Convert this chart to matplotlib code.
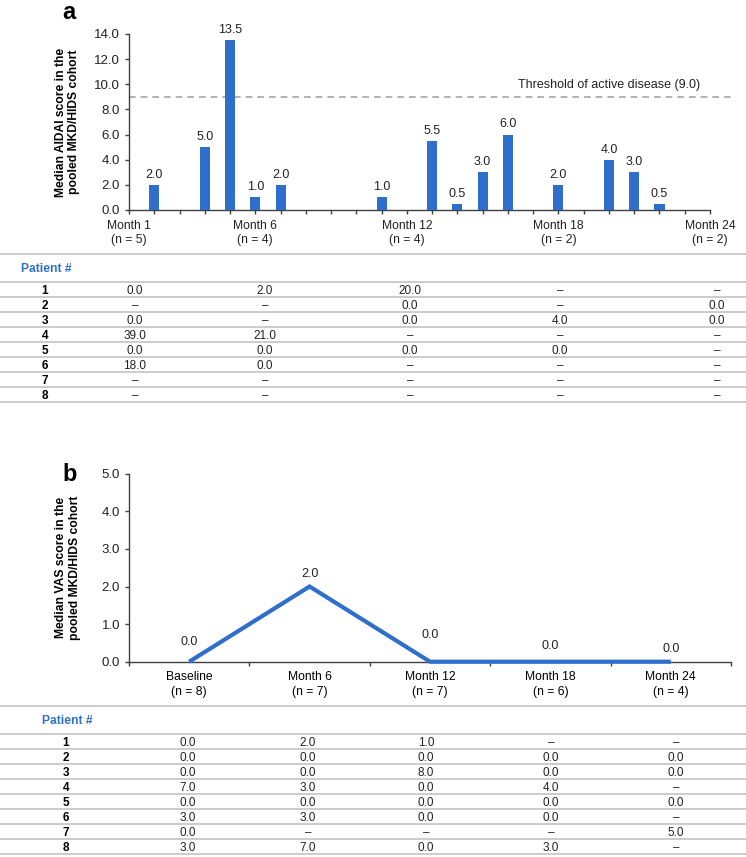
import matplotlib
matplotlib.use("Agg")
import matplotlib.pyplot as plt
from matplotlib.lines import Line2D

plt.rcParams['font.family'] = ['Liberation Sans', 'DejaVu Sans']

# ---------------- data ----------------
# Panel a: median AIDAI score by month
aidai_months = [2, 4, 5, 6, 7, 11, 13, 14, 15, 16, 18, 20, 21, 22]
aidai_values = [2.0, 5.0, 13.5, 1.0, 2.0, 1.0, 5.5, 0.5, 3.0, 6.0, 2.0, 4.0, 3.0, 0.5]
aidai_label_months = [1, 6, 12, 18, 24]
aidai_label_n = [5, 4, 4, 2, 2]
threshold = 9.0

# Panel a table (columns: Month 1, 6, 12, 18, 24), None = missing
patients = [1, 2, 3, 4, 5, 6, 7, 8]
aidai_table = [
    [0.0, 2.0, 20.0, None, None],
    [None, None, 0.0, None, 0.0],
    [0.0, None, 0.0, 4.0, 0.0],
    [39.0, 21.0, None, None, None],
    [0.0, 0.0, 0.0, 0.0, None],
    [18.0, 0.0, None, None, None],
    [None, None, None, None, None],
    [None, None, None, None, None],
]

# Panel b: median VAS score
vas_categories = ["Baseline", "Month 6", "Month 12", "Month 18", "Month 24"]
vas_n = [8, 7, 7, 6, 4]
vas_values = [0.0, 2.0, 0.0, 0.0, 0.0]

vas_table = [
    [0.0, 2.0, 1.0, None, None],
    [0.0, 0.0, 0.0, 0.0, 0.0],
    [0.0, 0.0, 8.0, 0.0, 0.0],
    [7.0, 3.0, 0.0, 4.0, None],
    [0.0, 0.0, 0.0, 0.0, 0.0],
    [3.0, 3.0, 0.0, 0.0, None],
    [0.0, None, None, None, 5.0],
    [3.0, 7.0, 0.0, 3.0, None],
]

# ---------------- layout ----------------
W, H = 746, 857
BLUE = "#2F6FCB"
AXC = "#404040"
GRID = "#c8c8c8"
FS = 8.7
TFS = 8.5

fig = plt.figure(figsize=(W / 100, H / 100), dpi=100)


def fy(py):
    return 1 - py / H


def fx(px):
    return px / W


def axes_px(l, r, t, b):
    return fig.add_axes([fx(l), fy(b), fx(r) - fx(l), fy(t) - fy(b)])


def style_axes(ax):
    for s in ("top", "right"):
        ax.spines[s].set_visible(False)
    for s in ("left", "bottom"):
        ax.spines[s].set_color(AXC)
        ax.spines[s].set_linewidth(1.0)
    ax.tick_params(direction="out", length=3, width=1.0, color=AXC,
                   labelsize=FS, labelcolor="#222222")
    ax.tick_params(axis="y", labelsize=9.5)


def hline(py, x0=0, x1=W, lw=1.3):
    fig.add_artist(Line2D([fx(x0), fx(x1)], [fy(py), fy(py)],
                          transform=fig.transFigure, color=GRID, lw=lw))


def fmt(v):
    return "\u2013" if v is None else f"{v:.1f}"


# baseline offset (px) so digits are vertically centred in a row
BASE_OFF = 0.716 * TFS * 100 / 72 / 2

# ---------------- panel a ----------------
axa = axes_px(129, 710, 34, 210)
style_axes(axa)
axa.bar(aidai_months, aidai_values, width=0.4, color=BLUE, zorder=3)
for m, v in zip(aidai_months, aidai_values):
    axa.annotate(f"{v:.1f}", (m, v), xytext=(0, 3), textcoords="offset points",
                 ha="center", va="bottom", fontsize=9, color="#222222")
axa.set_xlim(1, 24)
axa.set_ylim(0, 14)
axa.set_yticks([0, 2, 4, 6, 8, 10, 12, 14])
axa.set_yticklabels([f"{t:.1f}" for t in [0, 2, 4, 6, 8, 10, 12, 14]])
months_all = list(range(1, 25))
axa.set_xticks(months_all)
lab = {m: f"Month {m}\n(n = {n})" for m, n in zip(aidai_label_months, aidai_label_n)}
axa.set_xticklabels([lab.get(m, "") for m in months_all], linespacing=1.25)
axa.tick_params(axis="x", pad=4)
axa.plot([1, 24.87], [threshold, threshold], ls=(0, (4, 3)), color="#a6a6a6",
         lw=1.2, clip_on=False, zorder=2)
axa.annotate(f"Threshold of active disease ({threshold:.1f})", (23.6, threshold),
             xytext=(0, 4), textcoords="offset points", ha="right", va="bottom",
             fontsize=9, color="#222222")
axa.set_ylabel("Median AIDAI score in the\npooled MKD/HIDS cohort",
               fontsize=FS, fontweight="bold", linespacing=1.15)
axa.yaxis.set_label_coords(-0.084, 0.5)
fig.text(fx(62), fy(19), "a", fontsize=17, fontweight="bold", va="baseline")

# ---------------- table a ----------------
hline(254)
fig.text(fx(21), fy(269), "Patient #", color=BLUE, fontsize=FS,
         fontweight="bold", va="center", ha="left")
cols_a = [135, 265, 410, 560, 717]
top_a, step = 282, 15.0
for i in range(len(patients) + 1):
    hline(top_a + i * step)
for i, p in enumerate(patients):
    yc = fy(top_a + (i + 0.5) * step + BASE_OFF)
    fig.text(fx(45), yc, str(p), fontsize=TFS, fontweight="bold",
             ha="center", va="baseline")
    for x, v in zip(cols_a, aidai_table[i]):
        fig.text(fx(x), yc, fmt(v), fontsize=TFS, ha="center", va="baseline",
                 color="#222222")

# ---------------- panel b ----------------
axb = axes_px(129, 731, 473.7, 661.7)
style_axes(axb)
xs = list(range(len(vas_categories)))
axb.plot(xs, vas_values, color=BLUE, lw=3.0, solid_capstyle="butt",
         solid_joinstyle="miter", clip_on=False, zorder=3)
label_offsets = [14, 9, 19, 11, 9]
for x, v, off in zip(xs, vas_values, label_offsets):
    axb.annotate(f"{v:.1f}", (x, v), xytext=(0, off), textcoords="offset points",
                 ha="center", va="center", fontsize=9, color="#222222")
axb.set_xlim(-0.5, len(vas_categories) - 0.5)
axb.set_ylim(0, 5)
axb.set_yticks([0, 1, 2, 3, 4, 5])
axb.set_yticklabels([f"{t:.1f}" for t in range(6)])
axb.set_xticks([i - 0.5 for i in range(len(vas_categories) + 1)])
axb.set_xticklabels([])
axb.set_xticks(xs, minor=True)
axb.set_xticklabels([f"{c}\n(n = {n})" for c, n in zip(vas_categories, vas_n)],
                    minor=True, linespacing=1.25)
axb.tick_params(axis="x", which="minor", length=0, pad=7, labelsize=FS)
axb.set_ylabel("Median VAS score in the\npooled MKD/HIDS cohort",
               fontsize=FS, fontweight="bold", linespacing=1.15)
axb.yaxis.set_label_coords(-0.08, 0.5)
fig.text(fx(62), fy(481), "b", fontsize=17, fontweight="bold", va="baseline")

# ---------------- table b ----------------
hline(706)
fig.text(fx(42), fy(721), "Patient #", color=BLUE, fontsize=FS,
         fontweight="bold", va="center", ha="left")
cols_b = [188, 308, 426, 551, 676]
top_b = 734
for i in range(len(patients) + 1):
    hline(top_b + i * step)
for i, p in enumerate(patients):
    yc = fy(top_b + (i + 0.5) * step + BASE_OFF)
    fig.text(fx(66), yc, str(p), fontsize=TFS, fontweight="bold",
             ha="center", va="baseline")
    for x, v in zip(cols_b, vas_table[i]):
        fig.text(fx(x), yc, fmt(v), fontsize=TFS, ha="center", va="baseline",
                 color="#222222")

fig.savefig("out.png", dpi=100)
